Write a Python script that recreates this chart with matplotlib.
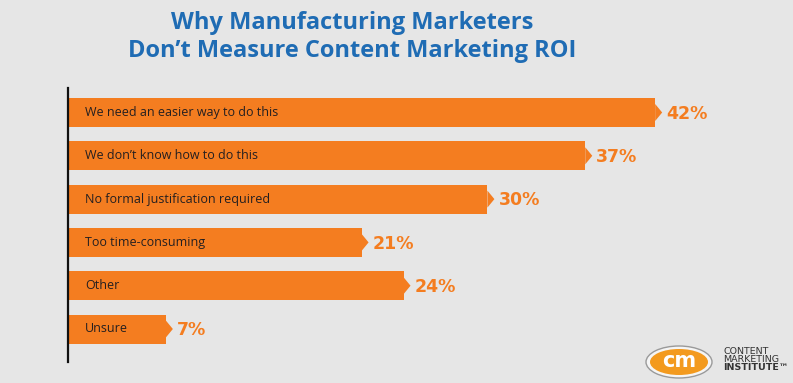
import matplotlib.pyplot as plt
from matplotlib.patches import Polygon, Ellipse

# data
categories = ["We need an easier way to do this", "We don\u2019t know how to do this",
              "No formal justification required", "Too time-consuming", "Other", "Unsure"]
values = [42, 37, 30, 21, 24, 7]
title_lines = ["Why Manufacturing Marketers", "Don\u2019t Measure Content Marketing ROI"]

bg = "#e6e6e6"
orange = "#f47d20"
blue = "#1f6cb4"

W, H = 793, 383
fig = plt.figure(figsize=(W / 100, H / 100), dpi=100, facecolor=bg)

# main axes: left edge at the black axis line, 1% ~ 14 px
ax = fig.add_axes([68 / W, (H - 362) / H, (W - 68) / W, 274 / H])
ax.set_facecolor(bg)
px_per_pct = 13.98
ax.set_xlim(0, (W - 68) / px_per_pct)
step = 43.3
ax.set_ylim(5 + (362 - 329) / step, -24.5 / step)

bar_h = 29 / step
ypos = list(range(len(values)))
ax.barh(ypos, values, height=bar_h, color=orange, zorder=2)

tip_w = 7 / px_per_pct
tip_h = 17 / step
for y, v, name in zip(ypos, values, categories):
    ax.add_patch(Polygon([(v, y - tip_h / 2), (v + tip_w, y), (v, y + tip_h / 2)],
                         closed=True, color=orange, zorder=2, lw=0))
    ax.text(17 / px_per_pct, y, name, va="center", ha="left", fontsize=9,
            color="#231f20", family="Open Sans", zorder=3)
    ax.text(v + tip_w + 4 / px_per_pct, y + 0.03, f"{v}%", va="center", ha="left",
            fontsize=12.5, fontweight="bold", color=orange, family="DejaVu Sans", zorder=3)

for s in ["top", "right", "bottom"]:
    ax.spines[s].set_visible(False)
ax.spines["left"].set_color("#111111")
ax.spines["left"].set_linewidth(1.6)
ax.set_xticks([])
ax.set_yticks([])

# title
fig.text(352 / W, 1 - 23 / H, title_lines[0], ha="center", va="center", fontsize=17,
         fontweight="bold", color=blue, family="Open Sans")
fig.text(352 / W, 1 - 51 / H, title_lines[1], ha="center", va="center", fontsize=17,
         fontweight="bold", color=blue, family="Open Sans")

# logo
lax = fig.add_axes([0, 0, 1, 1], facecolor="none")
lax.set_xlim(0, W)
lax.set_ylim(H, 0)
lax.axis("off")
lax.add_patch(Ellipse((679, 362), 66, 32, facecolor="#f5f5f5", edgecolor="#9a9a9a", lw=1))
lax.add_patch(Ellipse((679, 362), 58, 26, facecolor="#f39a1e", edgecolor="none"))
lax.text(679, 361, "cm", ha="center", va="center", fontsize=15, fontweight="bold",
         color="white", family="DejaVu Sans")
for i, t in enumerate(["CONTENT", "MARKETING", "INSTITUTE\u2122"]):
    lax.text(723, 351 + i * 8.5, t, ha="left", va="center", fontsize=6.8,
             color="#333333", fontweight="bold" if i == 2 else "normal", family="DejaVu Sans")

fig.savefig("out.png", dpi=100, facecolor=bg)
